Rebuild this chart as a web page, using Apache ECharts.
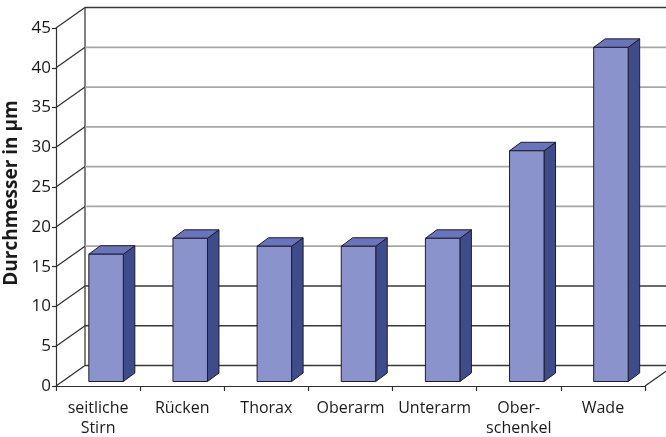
<!DOCTYPE html>
<html>
<head>
<meta charset="utf-8">
<script src="https://cdn.jsdelivr.net/npm/echarts@6/dist/echarts.min.js"></script>
<style>
  html, body { margin: 0; padding: 0; background: #fff; }
  #chart { width: 666px; height: 437px; }
</style>
</head>
<body>
<div id="chart"></div>
<script>
// Haardurchmesser nach Körperregion
const categories = ['seitliche\nStirn', 'Rücken', 'Thorax', 'Oberarm', 'Unterarm', 'Ober-\nschenkel', 'Wade'];
const diameters = [16, 18, 17, 17, 18, 29, 42];
const yTicks = [0, 5, 10, 15, 20, 25, 30, 35, 40, 45];
const yAxisTitle = 'Durchmesser in μm';

// pseudo-3D geometry (pixels)
const WALL_DX = 29, WALL_DY = 20.5;   // depth of the floor / side wall
const BAR_SX = 8, BAR_SY = 4.5;       // bar front face set back from the front edge
const BAR_DX = 11.5, BAR_DY = 8.5;    // bar depth
const BAR_W = 0.41;                   // share of category width

const FONT = '"Open Sans", "Noto Sans", sans-serif';

const chart = echarts.init(document.getElementById('chart'), null, { renderer: 'canvas' });

function wallItem(params, api) {
  const cs = params.coordSys;
  const v = api.value(0);
  const y = api.coord([0, v])[1];
  const x0 = cs.x, x1 = cs.x + cs.width;
  const dark = v <= 10 || v === 45;
  const children = [
    { type: 'line', shape: { x1: x0, y1: y, x2: x0 + WALL_DX, y2: y - WALL_DY },
      style: { stroke: '#2e2e2e', lineWidth: 1.2 } },
    { type: 'line', shape: { x1: x0 + WALL_DX, y1: y - WALL_DY, x2: x1 + WALL_DX, y2: y - WALL_DY },
      style: { stroke: dark ? '#3a3838' : '#aaa6a6', lineWidth: dark ? 1.4 : 1.8 } }
  ];
  if (v === 0) {
    const yTop = api.coord([0, yTicks[yTicks.length - 1]])[1];
    children.push(
      { type: 'line', shape: { x1: x1, y1: y, x2: x1 + WALL_DX, y2: y - WALL_DY },
        style: { stroke: '#2e2e2e', lineWidth: 1.2 } },
      { type: 'line', shape: { x1: x0 + WALL_DX, y1: y - WALL_DY, x2: x0 + WALL_DX, y2: yTop - WALL_DY },
        style: { stroke: '#2e2e2e', lineWidth: 1.2 } },
      { type: 'line', shape: { x1: x1 + WALL_DX, y1: y - WALL_DY, x2: x1 + WALL_DX, y2: yTop - WALL_DY },
        style: { stroke: '#2e2e2e', lineWidth: 1.2 } }
    );
  }
  return { type: 'group', children };
}

function barItem(params, api) {
  const i = api.value(0);
  const top = api.coord([i, api.value(1)]);
  const base = api.coord([i, 0]);
  const w = api.size([1, 0])[0] * BAR_W;
  const fx = top[0] - w / 2 + BAR_SX;
  const yt = top[1] - BAR_SY;
  const yb = base[1] - BAR_SY;
  const edge = { stroke: '#1d1d2c', lineWidth: 1, lineJoin: 'round' };
  return {
    type: 'group',
    children: [
      { type: 'polygon',
        shape: { points: [[fx + w, yt], [fx + w + BAR_DX, yt - BAR_DY], [fx + w + BAR_DX, yb - BAR_DY], [fx + w, yb]] },
        style: Object.assign({ fill: '#3f4c8b' }, edge) },
      { type: 'polygon',
        shape: { points: [[fx, yt], [fx + w, yt], [fx + w + BAR_DX, yt - BAR_DY], [fx + BAR_DX, yt - BAR_DY]] },
        style: Object.assign({ fill: '#6a74bb' }, edge) },
      { type: 'rect',
        shape: { x: fx, y: yt, width: w, height: yb - yt },
        style: Object.assign({ fill: '#8b93cd' }, edge) }
    ]
  };
}

chart.setOption({
  animation: false,
  backgroundColor: '#ffffff',
  grid: { left: 56, right: 21, top: 28, bottom: 51, containLabel: false, outerBoundsMode: 'none' },
  xAxis: {
    type: 'category',
    data: categories,
    boundaryGap: true,
    axisLine: { show: true, lineStyle: { color: '#2e2e2e', width: 1.2 } },
    axisTick: { show: true, length: 5, lineStyle: { color: '#2e2e2e', width: 1.2 } },
    axisLabel: { fontFamily: FONT, fontSize: 16, color: '#1a1a1a', margin: 12, lineHeight: 20, interval: 0 },
    splitLine: { show: false }
  },
  yAxis: {
    type: 'value',
    min: 0, max: 45, interval: 5,
    name: yAxisTitle,
    nameLocation: 'middle',
    nameGap: 21,
    nameTextStyle: { fontFamily: FONT, fontSize: 19, fontWeight: 'bold', color: '#1a1a1a', padding: [0, 0, 0, 28] },
    axisLine: { show: true, lineStyle: { color: '#2e2e2e', width: 1.2 } },
    axisTick: { show: true, length: 4, lineStyle: { color: '#2e2e2e', width: 1.2 } },
    axisLabel: { fontFamily: FONT, fontSize: 17, color: '#1a1a1a', margin: 5 },
    splitLine: { show: false }
  },
  series: [
    {
      type: 'custom',
      name: 'Wände',
      clip: false,
      z: 1,
      silent: true,
      data: yTicks.map(v => [v]),
      encode: { y: 0 },
      renderItem: wallItem
    },
    {
      type: 'custom',
      name: 'Durchmesser',
      clip: false,
      z: 3,
      data: diameters.map((v, i) => [i, v]),
      encode: { x: 0, y: 1 },
      renderItem: barItem
    }
  ]
});
</script>
</body>
</html>
